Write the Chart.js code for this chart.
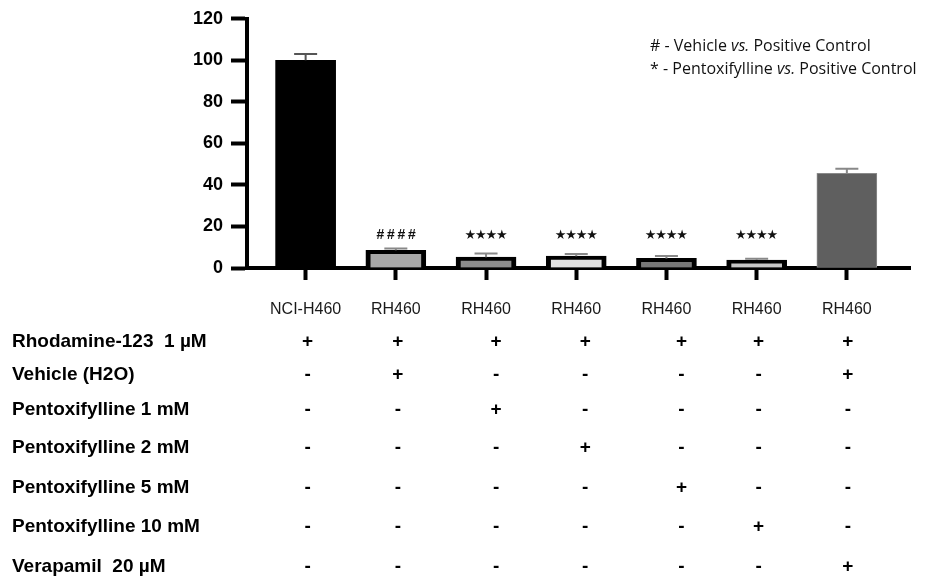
<!DOCTYPE html>
<html>
<head>
<meta charset="utf-8">
<script src="https://cdn.jsdelivr.net/npm/chart.js@4"></script>
<style>
  html, body { margin: 0; padding: 0; background: #fff; }
  #wrap { width: 927px; height: 583px; }
</style>
</head>
<body>
<div id="wrap"><canvas id="chart1" width="927" height="583"></canvas></div>
<script>
// values (% of NCI-H460)
const cellLabels = ["NCI-H460", "RH460", "RH460", "RH460", "RH460", "RH460", "RH460"];
const means = [100, 8.5, 5.2, 5.7, 4.6, 3.8, 45.6];
const sems = [3.1, 0.9, 1.8, 1.0, 1.2, 0.6, 2.2];
const sigMarks = ["", "####", "****", "****", "****", "****", ""];
const yTicks = [0, 20, 40, 60, 80, 100, 120];
const legendLines = [
  ["# - Vehicle ", "vs.", " Positive Control"],
  ["* - Pentoxifylline ", "vs.", " Positive Control"],
];
const rowLabels = [
  "Rhodamine-123  1 \u00b5M",
  "Vehicle (H2O)",
  "Pentoxifylline 1 mM",
  "Pentoxifylline 2 mM",
  "Pentoxifylline 5 mM",
  "Pentoxifylline 10 mM",
  "Verapamil  20 \u00b5M",
];
const treatments = [
  ["+", "+", "+", "+", "+", "+", "+"],
  ["-", "+", "-", "-", "-", "-", "+"],
  ["-", "-", "+", "-", "-", "-", "-"],
  ["-", "-", "-", "+", "-", "-", "-"],
  ["-", "-", "-", "-", "+", "-", "-"],
  ["-", "-", "-", "-", "-", "+", "-"],
  ["-", "-", "-", "-", "-", "-", "+"],
];

// styling / layout
const barColors = ["#000000", "#a8a8a8", "#8c8c8c", "#e2e2e2", "#787878", "#c6c6c6", "#5f5f5f"];
const barBorders = ["#000000", "#000000", "#000000", "#000000", "#000000", "#000000", "#8a8a8a"];
const thick = { top: 4, left: 5, right: 5, bottom: 0 };
const barBorderW = [0, thick, thick, thick, thick, thick, 1];
const errColors = ["#555", "#888", "#888", "#888", "#888", "#888", "#888"];
const rowY = [342, 375, 410, 448, 488, 527, 567];
const colNudge = [2, 2, 10, 9, 15, 2, 1];
const ARIAL = "'Liberation Sans', Arial, sans-serif";

const errorBars = {
  id: "errorBars",
  afterDatasetsDraw(chart) {
    const ctx = chart.ctx;
    const xs = chart.scales.x, ys = chart.scales.y;
    ctx.save();
    means.forEach((m, i) => {
      const x = xs.getPixelForValue(i);
      const y0 = ys.getPixelForValue(m);
      const y1 = ys.getPixelForValue(m + sems[i]);
      ctx.strokeStyle = errColors[i];
      ctx.lineWidth = 2;
      ctx.beginPath();
      ctx.moveTo(x, y0);
      ctx.lineTo(x, y1);
      ctx.moveTo(x - 11.5, y1);
      ctx.lineTo(x + 11.5, y1);
      ctx.stroke();

      // significance marks, one glyph at a time
      const s = sigMarks[i];
      if (s) {
        const yy = ys.getPixelForValue(15.6);
        ctx.fillStyle = "#111";
        ctx.textAlign = "center";
        ctx.textBaseline = "middle";
        if (s[0] === "#") {
          ctx.font = "italic bold 14px " + ARIAL;
        } else {
          ctx.font = "bold 13px 'DejaVu Sans'";
        }
        const step = 10.5;
        for (let k = 0; k < s.length; k++) {
          const g = s[k] === "*" ? "\u2605" : s[k];
          ctx.fillText(g, x + (k - (s.length - 1) / 2) * step, yy);
        }
      }
    });
    ctx.restore();
  },
  afterDraw(chart) {
    const ctx = chart.ctx;
    const xs = chart.scales.x;
    ctx.save();
    // legend text, top right
    ctx.fillStyle = "#111";
    ctx.textBaseline = "middle";
    ctx.textAlign = "left";
    legendLines.forEach((parts, r) => {
      let x = 650;
      const y = 46 + r * 23;
      parts.forEach((p, k) => {
        ctx.font = (k === 1 ? "italic " : "") + "16px 'Open Sans'";
        ctx.fillText(p, x, y);
        x += ctx.measureText(p).width;
      });
    });

    // treatment table under the axis
    ctx.fillStyle = "#000";
    rowLabels.forEach((lab, r) => {
      ctx.textAlign = "left";
      ctx.font = "bold 19px " + ARIAL;
      ctx.fillText(lab, 12, rowY[r]);
      ctx.textAlign = "center";
      treatments[r].forEach((t, c) => {
        ctx.fillText(t, xs.getPixelForValue(c) + colNudge[c], rowY[r]);
      });
    });
    ctx.restore();
  },
};

var canvas1 = document.getElementById("chart1");
var chart1 = new Chart(canvas1, {
  type: "bar",
  data: {
    datasets: [
      {
        data: means.map((v, i) => ({ x: i, y: v })),
        backgroundColor: barColors,
        borderColor: barBorders,
        borderWidth: (c) => barBorderW[c.dataIndex],
        borderSkipped: false,
        barThickness: 60,
      },
    ],
  },
  options: {
    responsive: false,
    animation: false,
    layout: { padding: { top: 15, right: 17, left: 0, bottom: 0 } },
    plugins: { legend: { display: false }, tooltip: { enabled: false } },
    scales: {
      x: {
        type: "linear",
        min: -0.65,
        max: 6.7,
        offset: false,
        afterFit: (s) => { s.height = 583 - 268; },
        border: { display: true, color: "#000", width: 4 },
        grid: { offset: false, drawOnChartArea: false, drawTicks: true, tickLength: 12, tickWidth: 4, tickColor: "#000" },
        ticks: {
          stepSize: 1,
          includeBounds: false,
          autoSkip: false,
          maxRotation: 0,
          padding: 20,
          color: "#1a1a1a",
          font: { family: ARIAL, size: 16 },
          callback: (v) => (Number.isInteger(v) && cellLabels[v] !== undefined ? cellLabels[v] : ""),
        },
      },
      y: {
        min: 0,
        max: 120,
        afterFit: (s) => { s.width = 247; },
        afterBuildTicks: (s) => { s.ticks = yTicks.map((v) => ({ value: v })); },
        border: { display: true, color: "#000", width: 4 },
        grid: { drawOnChartArea: false, drawTicks: true, tickLength: 16, tickWidth: 4, tickColor: "#000" },
        ticks: {
          padding: 8,
          color: "#000",
          font: { family: ARIAL, size: 18, weight: "bold" },
        },
      },
    },
  },
  plugins: [errorBars],
});
</script>
</body>
</html>
